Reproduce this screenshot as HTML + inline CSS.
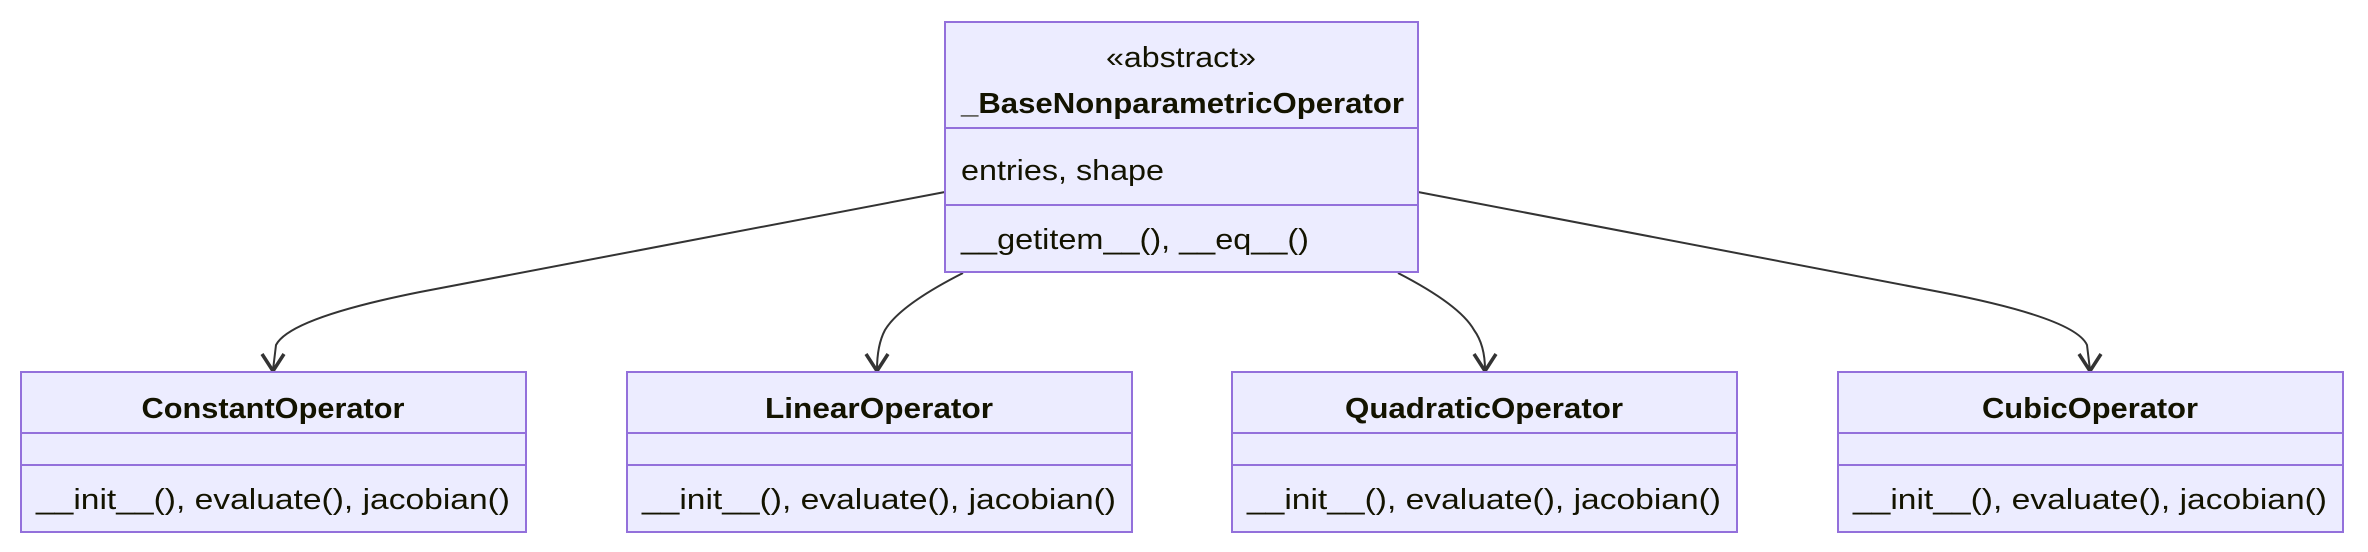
<!DOCTYPE html>
<html><head><meta charset="utf-8"><style>
html,body{margin:0;padding:0;background:#fff;}
svg{display:block;}
text{font-family:"Liberation Sans",sans-serif;fill:#131300;}
</style></head><body>
<svg width="2368" height="552" viewBox="0 0 2368 552" xmlns="http://www.w3.org/2000/svg">
<g fill="none" stroke="#333" stroke-width="2">
<path d="M945,192 L420,292 Q290,318 276,345 L273,370"/>
<path d="M963,273 Q900,305 885,330 Q877,345 877,370"/>
<path d="M1398,273 Q1460,305 1474,330 Q1485,345 1485,370"/>
<path d="M1418,192 L1940,292 Q2075,318 2087,345 L2090,370"/>
<path d="M262,354 L273,371 L284,354" stroke-width="3.5"/>
<path d="M866,354 L877,371 L888,354" stroke-width="3.5"/>
<path d="M1474,354 L1485,371 L1496,354" stroke-width="3.5"/>
<path d="M2079,354 L2090,371 L2101,354" stroke-width="3.5"/>
</g>
<g fill="#ECECFF" stroke="#9370DB" stroke-width="2">
<rect x="945" y="22" width="473" height="250"/>
<line x1="945" y1="128" x2="1418" y2="128"/>
<line x1="945" y1="205" x2="1418" y2="205"/>
<rect x="21" y="372" width="505" height="160"/>
<line x1="21" y1="433" x2="526" y2="433"/><line x1="21" y1="465" x2="526" y2="465"/>
<rect x="627" y="372" width="505" height="160"/>
<line x1="627" y1="433" x2="1132" y2="433"/><line x1="627" y1="465" x2="1132" y2="465"/>
<rect x="1232" y="372" width="505" height="160"/>
<line x1="1232" y1="433" x2="1737" y2="433"/><line x1="1232" y1="465" x2="1737" y2="465"/>
<rect x="1838" y="372" width="505" height="160"/>
<line x1="1838" y1="433" x2="2343" y2="433"/><line x1="1838" y1="465" x2="2343" y2="465"/>
</g>
<g font-size="29">
<text x="1181" y="67" text-anchor="middle" textLength="150" lengthAdjust="spacingAndGlyphs">«abstract»</text>
<text x="961" y="113" font-weight="bold" textLength="443" lengthAdjust="spacingAndGlyphs">_BaseNonparametricOperator</text>
<text x="961" y="180" textLength="203" lengthAdjust="spacingAndGlyphs">entries, shape</text>
<text x="961" y="249" textLength="348" lengthAdjust="spacingAndGlyphs">__getitem__(), __eq__()</text>
<text x="273" y="418" text-anchor="middle" font-weight="bold" textLength="263" lengthAdjust="spacingAndGlyphs">ConstantOperator</text>
<text x="879" y="418" text-anchor="middle" font-weight="bold" textLength="228" lengthAdjust="spacingAndGlyphs">LinearOperator</text>
<text x="1484" y="418" text-anchor="middle" font-weight="bold" textLength="278" lengthAdjust="spacingAndGlyphs">QuadraticOperator</text>
<text x="2090" y="418" text-anchor="middle" font-weight="bold" textLength="216" lengthAdjust="spacingAndGlyphs">CubicOperator</text>
<text x="36" y="509" textLength="474" lengthAdjust="spacingAndGlyphs">__init__(), evaluate(), jacobian()</text>
<text x="642" y="509" textLength="474" lengthAdjust="spacingAndGlyphs">__init__(), evaluate(), jacobian()</text>
<text x="1247" y="509" textLength="474" lengthAdjust="spacingAndGlyphs">__init__(), evaluate(), jacobian()</text>
<text x="1853" y="509" textLength="474" lengthAdjust="spacingAndGlyphs">__init__(), evaluate(), jacobian()</text>
</g>
</svg>
</body></html>
